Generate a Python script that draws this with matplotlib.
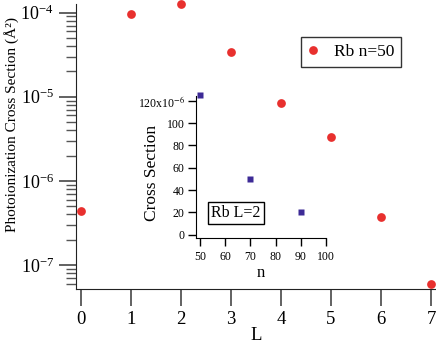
import numpy as np
import matplotlib
matplotlib.use('Agg')
import matplotlib.pyplot as plt
from matplotlib.ticker import LogLocator, NullFormatter

plt.rcParams['font.family'] = ['Liberation Serif', 'DejaVu Serif']
plt.rcParams['mathtext.fontset'] = 'stix'

# main panel: cross section vs L for Rb n=50
L = [0, 1, 2, 3, 4, 5, 6, 7]
cs = [4.4e-7, 9.5e-5, 1.25e-4, 3.4e-5, 8.5e-6, 3.36e-6, 3.7e-7, 5.96e-8]

# inset: cross section (x1e-6) vs n for Rb L=2
n = [50, 70, 90]
cs_n = [125, 50, 20]
inset_yticks = [0, 20, 40, 60, 80, 100, 120]
inset_ylabels = ['0', '20', '40', '60', '80', '100', '120x10$^{-6}$']

red = '#e8302e'
blue = '#3d2a96'
grey = '#555555'

fig = plt.figure(figsize=(4.36, 3.43), dpi=100)
ax = fig.add_axes([0.1743, 0.1574, 0.8257, 0.8306])
ax.plot(L, cs, 'o', color=red, ms=6.3, mec='none', clip_on=False, label='Rb n=50', zorder=5)
ax.set_yscale('log')
ax.set_xlim(-0.1, 7.1)
ax.set_ylim(5.2e-8, 1.26e-4)
ax.set_xticks(range(8))
ax.yaxis.set_minor_locator(LogLocator(base=10, subs=np.arange(2, 10)))
ax.yaxis.set_minor_formatter(NullFormatter())
for s in ['top', 'right']:
    ax.spines[s].set_visible(False)
for s in ['left', 'bottom']:
    ax.spines[s].set_color('#222222')
ax.tick_params(which='major', length=12, width=1.3, color=grey, labelsize=13.5, pad=4)
ax.tick_params(axis='y', which='major', labelsize=13)
ax.tick_params(which='minor', length=7, width=1.0, color=grey)
ax.set_xlabel('L', fontsize=13.5, labelpad=-1)
ax.set_ylabel('Photoionization Cross Section (Å²)', fontsize=11)
ax.yaxis.set_label_coords(-0.158, 0.579)
leg = ax.legend(loc='upper left', bbox_to_anchor=(0.625, 0.884), borderaxespad=0,
                fancybox=False, edgecolor='black', fontsize=12.5, handletextpad=0.9,
                borderpad=0.4, handlelength=0.6)
leg.get_frame().set_linewidth(1.0)

# inset
ins = fig.add_axes([0.4489, 0.3053, 0.2989, 0.4157], facecolor='none')
ins.plot(n, cs_n, 's', color=blue, ms=4.5, mec='none', clip_on=False)
ins.set_xlim(48.3, 100)
ins.set_ylim(-3.2, 124.5)
ins.set_xticks([50, 60, 70, 80, 90, 100])
ins.set_yticks(inset_yticks)
ins.set_yticklabels(inset_ylabels)
for s in ['top', 'right']:
    ins.spines[s].set_visible(False)
ins.tick_params(length=6, width=1.0, labelsize=8.5, pad=2)
ins.tick_params(axis='x', pad=3.5)
ins.set_xlabel('n', fontsize=12, labelpad=1)
ins.set_ylabel('Cross Section', fontsize=12.5)
ins.yaxis.set_label_coords(-0.274, 0.458)
ins.text(0.309, 0.177, 'Rb L=2', transform=ins.transAxes, ha='center', va='center',
         fontsize=11.5, bbox=dict(boxstyle='square,pad=0.2', fc='white', ec='black', lw=1.0))

fig.savefig('out.png', dpi=100)
